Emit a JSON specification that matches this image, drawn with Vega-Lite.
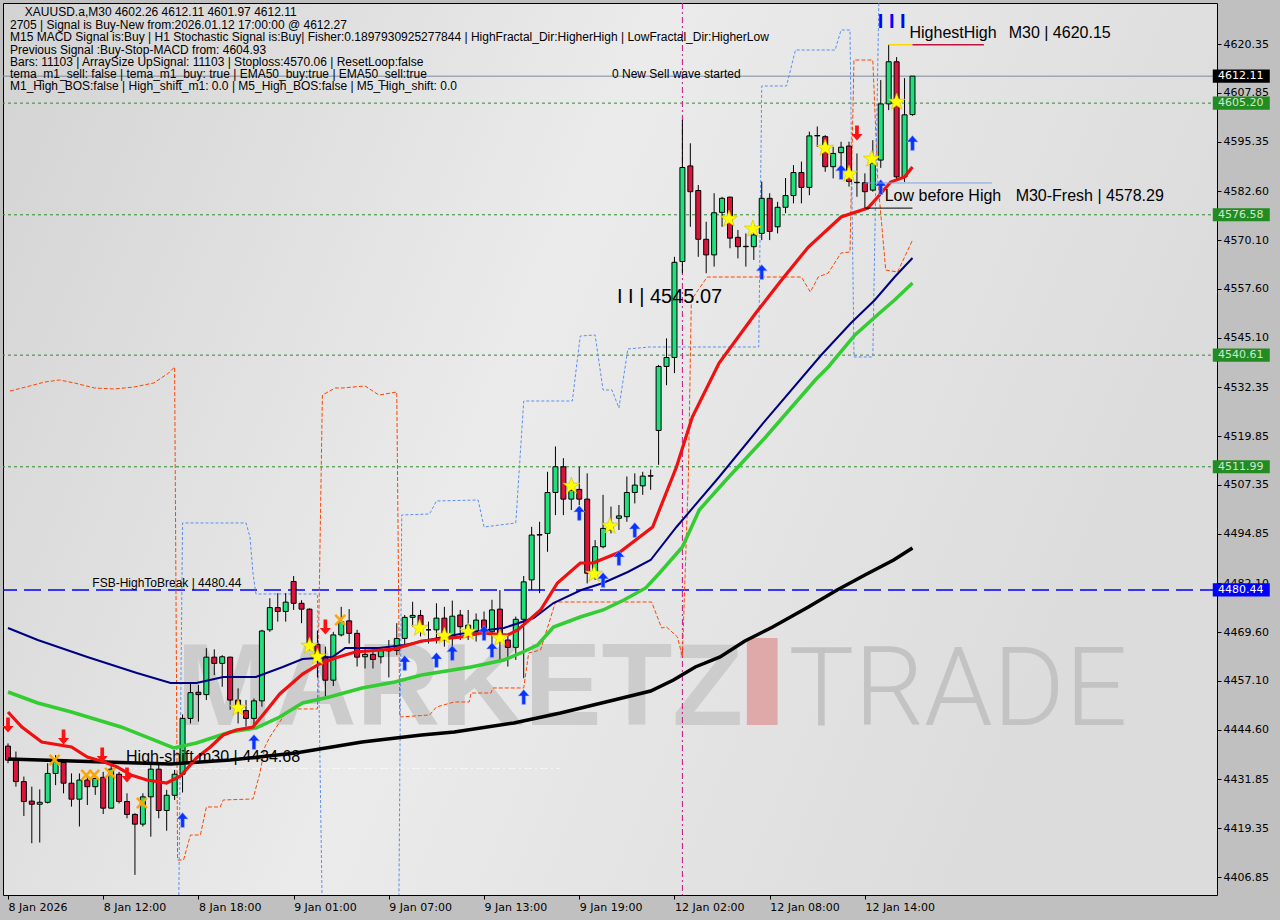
{
"$schema": "https://vega.github.io/schema/vega-lite/v6.json",
"width": 1214, "height": 892,
"autosize": {"type": "none"},
"padding": {"left": 3, "top": 3, "right": 63, "bottom": 25},
"background": "#c0c0c0",
"config": {"view": {"stroke": "#000000", "strokeWidth": 1, "fill": {"gradient": "linear", "x1": 0, "y1": 0, "x2": 1, "y2": 0.3, "stops": [{"offset": 0, "color": "#d3d3d3"}, {"offset": 0.5, "color": "#ebebeb"}, {"offset": 1, "color": "#dcdcdc"}]}}},
"datasets": {
"candles": [
{"k":0,"o":4440.4,"h":4441.1,"l":4436.0,"c":4436.8},
{"k":1,"o":4436.8,"h":4439.0,"l":4430.0,"c":4431.3},
{"k":2,"o":4431.3,"h":4432.6,"l":4422.5,"c":4426.2},
{"k":3,"o":4426.3,"h":4430.0,"l":4415.5,"c":4425.5},
{"k":4,"o":4425.5,"h":4429.3,"l":4415.7,"c":4426.0},
{"k":5,"o":4426.0,"h":4436.0,"l":4425.7,"c":4433.4},
{"k":6,"o":4433.4,"h":4438.1,"l":4430.4,"c":4437.0},
{"k":7,"o":4436.2,"h":4437.0,"l":4428.3,"c":4430.9},
{"k":8,"o":4430.9,"h":4433.4,"l":4424.9,"c":4426.8},
{"k":9,"o":4426.8,"h":4433.4,"l":4419.8,"c":4431.7},
{"k":10,"o":4431.7,"h":4433.4,"l":4425.3,"c":4430.0},
{"k":11,"o":4430.0,"h":4433.4,"l":4427.9,"c":4432.1},
{"k":12,"o":4432.4,"h":4433.8,"l":4423.0,"c":4424.5},
{"k":13,"o":4424.5,"h":4435.6,"l":4424.5,"c":4434.5},
{"k":14,"o":4433.2,"h":4433.8,"l":4425.7,"c":4426.2},
{"k":15,"o":4426.2,"h":4428.3,"l":4421.9,"c":4422.9},
{"k":16,"o":4422.9,"h":4423.2,"l":4407.4,"c":4420.4},
{"k":17,"o":4420.4,"h":4428.3,"l":4419.8,"c":4427.4},
{"k":18,"o":4427.4,"h":4436.0,"l":4417.2,"c":4434.5},
{"k":19,"o":4434.5,"h":4436.0,"l":4421.9,"c":4423.9},
{"k":20,"o":4423.9,"h":4429.2,"l":4418.7,"c":4427.8},
{"k":21,"o":4427.8,"h":4434.3,"l":4426.6,"c":4433.2},
{"k":22,"o":4433.2,"h":4448.5,"l":4428.5,"c":4447.5},
{"k":23,"o":4447.5,"h":4456.5,"l":4446.2,"c":4454.1},
{"k":24,"o":4454.2,"h":4456.1,"l":4446.7,"c":4453.6},
{"k":25,"o":4453.6,"h":4465.5,"l":4452.2,"c":4463.2},
{"k":26,"o":4463.2,"h":4465.2,"l":4458.6,"c":4461.6},
{"k":27,"o":4461.6,"h":4463.7,"l":4455.6,"c":4463.3},
{"k":28,"o":4463.2,"h":4463.3,"l":4449.7,"c":4452.2},
{"k":29,"o":4452.2,"h":4455.2,"l":4446.2,"c":4450.1},
{"k":30,"o":4449.5,"h":4452.2,"l":4445.4,"c":4447.5},
{"k":31,"o":4447.5,"h":4452.6,"l":4445.4,"c":4452.0},
{"k":32,"o":4452.0,"h":4470.2,"l":4450.5,"c":4469.9},
{"k":33,"o":4470.2,"h":4478.3,"l":4469.7,"c":4475.9},
{"k":34,"o":4475.9,"h":4479.6,"l":4472.3,"c":4474.9},
{"k":35,"o":4474.9,"h":4479.6,"l":4472.3,"c":4477.3},
{"k":36,"o":4482.6,"h":4484.0,"l":4475.3,"c":4477.0},
{"k":37,"o":4477.0,"h":4477.8,"l":4471.9,"c":4475.5},
{"k":38,"o":4475.5,"h":4475.7,"l":4465.0,"c":4466.7},
{"k":39,"o":4466.5,"h":4470.0,"l":4458.0,"c":4462.7},
{"k":40,"o":4463.3,"h":4465.9,"l":4453.1,"c":4457.3},
{"k":41,"o":4457.3,"h":4469.7,"l":4455.8,"c":4468.9},
{"k":42,"o":4468.9,"h":4476.1,"l":4468.5,"c":4472.3},
{"k":43,"o":4472.5,"h":4475.5,"l":4466.7,"c":4469.3},
{"k":44,"o":4469.3,"h":4470.2,"l":4460.8,"c":4463.2},
{"k":45,"o":4463.3,"h":4465.5,"l":4460.3,"c":4463.9},
{"k":46,"o":4463.9,"h":4465.7,"l":4460.3,"c":4462.6},
{"k":47,"o":4463.3,"h":4465.7,"l":4461.6,"c":4464.9},
{"k":48,"o":4464.9,"h":4467.6,"l":4458.0,"c":4464.8},
{"k":49,"o":4464.9,"h":4471.9,"l":4463.7,"c":4468.0},
{"k":50,"o":4468.0,"h":4474.0,"l":4466.1,"c":4473.4},
{"k":51,"o":4473.4,"h":4477.4,"l":4471.0,"c":4473.9},
{"k":52,"o":4473.9,"h":4475.3,"l":4468.5,"c":4471.4},
{"k":53,"o":4470.2,"h":4472.3,"l":4466.7,"c":4470.2},
{"k":54,"o":4470.2,"h":4477.0,"l":4466.7,"c":4473.2},
{"k":55,"o":4473.2,"h":4476.1,"l":4465.9,"c":4467.6},
{"k":56,"o":4468.0,"h":4477.7,"l":4464.2,"c":4473.7},
{"k":57,"o":4474.0,"h":4475.3,"l":4467.6,"c":4471.0},
{"k":58,"o":4469.3,"h":4475.3,"l":4467.6,"c":4471.4},
{"k":59,"o":4469.7,"h":4474.4,"l":4467.2,"c":4472.7},
{"k":60,"o":4472.7,"h":4474.9,"l":4467.6,"c":4469.7},
{"k":61,"o":4469.7,"h":4477.9,"l":4464.2,"c":4475.3},
{"k":62,"o":4475.5,"h":4480.4,"l":4462.5,"c":4468.9},
{"k":63,"o":4467.6,"h":4468.9,"l":4460.8,"c":4465.7},
{"k":64,"o":4465.7,"h":4473.6,"l":4462.5,"c":4472.9},
{"k":65,"o":4472.9,"h":4484.0,"l":4457.8,"c":4482.5},
{"k":66,"o":4483.0,"h":4496.6,"l":4480.4,"c":4494.5},
{"k":67,"o":4494.5,"h":4497.9,"l":4479.6,"c":4494.6},
{"k":68,"o":4494.9,"h":4510.7,"l":4490.2,"c":4505.4},
{"k":69,"o":4505.4,"h":4517.2,"l":4499.6,"c":4512.0},
{"k":70,"o":4512.0,"h":4514.2,"l":4499.6,"c":4503.7},
{"k":71,"o":4503.7,"h":4507.8,"l":4500.9,"c":4505.9},
{"k":72,"o":4506.2,"h":4512.0,"l":4502.2,"c":4503.7},
{"k":73,"o":4503.7,"h":4510.3,"l":4482.1,"c":4484.7},
{"k":74,"o":4484.7,"h":4493.2,"l":4483.0,"c":4491.5},
{"k":75,"o":4491.5,"h":4504.8,"l":4491.1,"c":4496.2},
{"k":76,"o":4495.8,"h":4501.8,"l":4494.9,"c":4497.5},
{"k":77,"o":4498.8,"h":4502.2,"l":4495.8,"c":4499.4},
{"k":78,"o":4499.2,"h":4509.5,"l":4497.9,"c":4505.4},
{"k":79,"o":4505.4,"h":4510.3,"l":4502.6,"c":4507.3},
{"k":80,"o":4507.1,"h":4510.7,"l":4504.8,"c":4509.6},
{"k":81,"o":4509.6,"h":4511.3,"l":4506.1,"c":4509.7},
{"k":82,"o":4521.3,"h":4538.1,"l":4512.5,"c":4537.7},
{"k":83,"o":4537.7,"h":4544.9,"l":4532.9,"c":4540.0},
{"k":84,"o":4540.0,"h":4565.8,"l":4536.0,"c":4564.4},
{"k":85,"o":4564.6,"h":4600.9,"l":4561.6,"c":4588.7},
{"k":86,"o":4589.1,"h":4594.9,"l":4573.5,"c":4582.5},
{"k":87,"o":4582.8,"h":4584.2,"l":4565.8,"c":4570.3},
{"k":88,"o":4570.3,"h":4574.8,"l":4561.6,"c":4566.3},
{"k":89,"o":4566.3,"h":4582.1,"l":4563.3,"c":4577.1},
{"k":90,"o":4577.2,"h":4581.2,"l":4573.5,"c":4580.8},
{"k":91,"o":4581.1,"h":4581.2,"l":4568.0,"c":4570.6},
{"k":92,"o":4570.8,"h":4572.7,"l":4565.4,"c":4568.4},
{"k":93,"o":4568.4,"h":4571.8,"l":4563.3,"c":4568.5},
{"k":94,"o":4568.4,"h":4574.0,"l":4565.0,"c":4571.4},
{"k":95,"o":4571.8,"h":4585.1,"l":4570.1,"c":4580.8},
{"k":96,"o":4580.8,"h":4582.1,"l":4570.1,"c":4572.3},
{"k":97,"o":4573.5,"h":4579.9,"l":4571.8,"c":4578.5},
{"k":98,"o":4578.5,"h":4586.0,"l":4577.0,"c":4581.5},
{"k":99,"o":4581.5,"h":4589.3,"l":4579.5,"c":4587.4},
{"k":100,"o":4587.4,"h":4590.2,"l":4579.5,"c":4583.6},
{"k":101,"o":4583.6,"h":4597.9,"l":4581.6,"c":4596.8},
{"k":102,"o":4596.8,"h":4599.2,"l":4594.0,"c":4596.9},
{"k":103,"o":4596.6,"h":4597.0,"l":4587.6,"c":4588.9},
{"k":104,"o":4588.9,"h":4594.0,"l":4585.9,"c":4592.3},
{"k":105,"o":4592.5,"h":4595.3,"l":4587.2,"c":4593.9},
{"k":106,"o":4594.2,"h":4595.3,"l":4583.8,"c":4585.1},
{"k":107,"o":4584.8,"h":4592.3,"l":4581.2,"c":4584.9},
{"k":108,"o":4584.8,"h":4587.2,"l":4578.29,"c":4582.5},
{"k":109,"o":4582.9,"h":4595.7,"l":4582.5,"c":4589.8},
{"k":110,"o":4590.6,"h":4611.1,"l":4588.6,"c":4605.0},
{"k":111,"o":4605.0,"h":4620.15,"l":4603.4,"c":4615.8},
{"k":112,"o":4615.8,"h":4617.0,"l":4585.5,"c":4586.3},
{"k":113,"o":4586.3,"h":4611.6,"l":4585.0,"c":4602.2},
{"k":114,"o":4602.26,"h":4612.11,"l":4601.97,"c":4612.11}
],
"black": [{"k":0,"p":4437.10},{"k":12.125,"p":4436.33},{"k":20.5,"p":4435.82},{"k":28,"p":4436.84},{"k":36.25,"p":4438.64},{"k":44.625,"p":4441.46},{"k":52.125,"p":4443.25},{"k":56.25,"p":4444.02},{"k":63.75,"p":4446.33},{"k":69.625,"p":4448.89},{"k":76.375,"p":4452.22},{"k":81,"p":4454.53},{"k":83.875,"p":4457.35},{"k":86.625,"p":4460.68},{"k":89.75,"p":4463.24},{"k":92.875,"p":4467.34},{"k":96.375,"p":4470.93},{"k":100.875,"p":4476.06},{"k":104.5,"p":4480.41},{"k":108,"p":4484.26},{"k":111.625,"p":4488.10},{"k":114,"p":4491.18}],
"navy": [{"k":0,"p":4470.67},{"k":3.75,"p":4467.60},{"k":10,"p":4463.24},{"k":16.25,"p":4459.14},{"k":20.5,"p":4456.58},{"k":23.75,"p":4456.58},{"k":27.125,"p":4458.11},{"k":31.25,"p":4458.11},{"k":34.625,"p":4460.68},{"k":37.125,"p":4462.73},{"k":40.875,"p":4463.24},{"k":42.5,"p":4465.55},{"k":46.75,"p":4465.55},{"k":50,"p":4466.32},{"k":54.25,"p":4468.11},{"k":58.375,"p":4469.65},{"k":62.5,"p":4470.67},{"k":66.25,"p":4473.24},{"k":68.75,"p":4477.08},{"k":72.25,"p":4480.41},{"k":75,"p":4482.21},{"k":78.125,"p":4485.03},{"k":81,"p":4488.10},{"k":84.25,"p":4496.56},{"k":89.625,"p":4509.37},{"k":95.5,"p":4523.98},{"k":102.5,"p":4540.64},{"k":106.25,"p":4548.85},{"k":109.25,"p":4554.74},{"k":111.75,"p":4560.63},{"k":114,"p":4565.50}],
"green": [{"k":0,"p":4454.27},{"k":3.75,"p":4451.45},{"k":8,"p":4449.14},{"k":14.25,"p":4445.30},{"k":18.375,"p":4441.97},{"k":20.875,"p":4439.92},{"k":23.75,"p":4441.20},{"k":28,"p":4444.02},{"k":31.25,"p":4445.04},{"k":34.25,"p":4447.86},{"k":37.125,"p":4451.45},{"k":40.5,"p":4452.99},{"k":44.625,"p":4455.30},{"k":48.75,"p":4456.83},{"k":52.125,"p":4458.63},{"k":58.375,"p":4460.68},{"k":62.5,"p":4462.47},{"k":64.625,"p":4464.27},{"k":66.75,"p":4466.32},{"k":68.75,"p":4470.93},{"k":72.125,"p":4473.49},{"k":75,"p":4475.29},{"k":77.625,"p":4477.85},{"k":80.375,"p":4480.93},{"k":82.125,"p":4484.77},{"k":85,"p":4491.43},{"k":87.125,"p":4500.92},{"k":90.5,"p":4508.61},{"k":95.5,"p":4519.63},{"k":101.75,"p":4534.24},{"k":103.375,"p":4537.57},{"k":106.75,"p":4545.77},{"k":110,"p":4551.66},{"k":111.75,"p":4554.74},{"k":114,"p":4559.10}],
"red": [{"k":0,"p":4449.14},{"k":1.75,"p":4445.30},{"k":4.25,"p":4441.46},{"k":8,"p":4440.17},{"k":10,"p":4437.61},{"k":12.125,"p":4436.33},{"k":13.75,"p":4435.05},{"k":15.5,"p":4433.00},{"k":17.5,"p":4431.72},{"k":20,"p":4430.95},{"k":21.75,"p":4432.74},{"k":23.75,"p":4437.35},{"k":25.5,"p":4440.17},{"k":27.125,"p":4443.25},{"k":28.75,"p":4444.53},{"k":30.875,"p":4445.30},{"k":32.125,"p":4448.38},{"k":34.25,"p":4453.76},{"k":37.125,"p":4458.88},{"k":39.25,"p":4461.45},{"k":41.25,"p":4462.98},{"k":43.75,"p":4464.52},{"k":48.75,"p":4465.29},{"k":52.125,"p":4467.34},{"k":57.125,"p":4468.37},{"k":59.625,"p":4469.39},{"k":63,"p":4468.88},{"k":64.25,"p":4470.16},{"k":67.125,"p":4475.29},{"k":69.25,"p":4482.21},{"k":72.125,"p":4487.33},{"k":73.75,"p":4487.33},{"k":77.125,"p":4490.15},{"k":81.25,"p":4496.56},{"k":84.25,"p":4511.94},{"k":86.25,"p":4524.75},{"k":89.625,"p":4538.59},{"k":94.25,"p":4551.41},{"k":97.5,"p":4559.87},{"k":100.875,"p":4568.32},{"k":105,"p":4576.01},{"k":108.375,"p":4578.32},{"k":109.625,"p":4581.14},{"k":111.25,"p":4584.98},{"k":113,"p":4586.26},{"k":114,"p":4588.83}],
"orange": [{"k":0.25,"p":4531.42},{"k":2.75,"p":4532.70},{"k":4.625,"p":4533.72},{"k":6.5,"p":4534.24},{"k":8.375,"p":4533.47},{"k":10.875,"p":4532.19},{"k":13.375,"p":4531.93},{"k":15.875,"p":4532.44},{"k":18.375,"p":4533.47},{"k":20.25,"p":4536.03},{"k":21,"p":4537.57},{"k":21.375,"p":4411.21},{"k":22.125,"p":4411.21},{"k":23,"p":4417.62},{"k":24.25,"p":4417.62},{"k":25,"p":4424.80},{"k":26.75,"p":4424.80},{"k":27.125,"p":4426.59},{"k":30.875,"p":4426.85},{"k":31.75,"p":4433.51},{"k":32.375,"p":4440.17},{"k":33,"p":4442.74},{"k":35,"p":4448.89},{"k":35.875,"p":4449.92},{"k":39,"p":4449.92},{"k":39.625,"p":4530.39},{"k":41.25,"p":4532.19},{"k":42.125,"p":4532.19},{"k":45,"p":4532.70},{"k":46.75,"p":4530.39},{"k":49,"p":4531.16},{"k":49.375,"p":4447.86},{"k":53.125,"p":4448.38},{"k":54,"p":4450.43},{"k":56.25,"p":4451.71},{"k":58.125,"p":4451.71},{"k":58.375,"p":4454.01},{"k":60.875,"p":4454.01},{"k":61.125,"p":4455.30},{"k":65,"p":4455.30},{"k":65.625,"p":4464.27},{"k":67.125,"p":4465.03},{"k":69,"p":4477.34},{"k":81.125,"p":4477.34},{"k":82.375,"p":4470.67},{"k":83,"p":4470.93},{"k":84.375,"p":4468.37},{"k":85,"p":4463.24},{"k":85.75,"p":4509.37},{"k":86.125,"p":4554.74},{"k":88.125,"p":4560.63},{"k":100,"p":4560.63},{"k":101.125,"p":4556.79},{"k":102.125,"p":4560.63},{"k":103.375,"p":4561.66},{"k":105,"p":4566.79},{"k":106.125,"p":4567.04},{"k":106.625,"p":4616.25},{"k":109,"p":4616.25},{"k":109.625,"p":4585.50},{"k":110.625,"p":4562.43},{"k":112.125,"p":4561.92},{"k":114,"p":4570.06}],
"bluedot": [{"k":21.5,"p":4395.83},{"k":22,"p":4497.59},{"k":30,"p":4497.59},{"k":30.5,"p":4494.00},{"k":30.875,"p":4484.77},{"k":31.25,"p":4479.39},{"k":39,"p":4479.39},{"k":39.625,"p":4395.83},{"k":49.25,"p":4395.83},{"k":49.625,"p":4499.64},{"k":53.125,"p":4499.89},{"k":54,"p":4503.22},{"k":59.25,"p":4503.48},{"k":60,"p":4496.56},{"k":64,"p":4497.59},{"k":65,"p":4528.85},{"k":71.125,"p":4528.85},{"k":72.125,"p":4545.51},{"k":74,"p":4545.77},{"k":75,"p":4531.67},{"k":76.125,"p":4531.67},{"k":77,"p":4527.06},{"k":78.125,"p":4542.18},{"k":80.875,"p":4542.69},{"k":94.625,"p":4542.69},{"k":95,"p":4609.59},{"k":98.125,"p":4609.59},{"k":99.25,"p":4618.81},{"k":104.25,"p":4618.81},{"k":105,"p":4623.94},{"k":106.125,"p":4623.94},{"k":106.625,"p":4540.13},{"k":109,"p":4540.13},{"k":110,"p":4660.0}],
"marks": [
{"k":29,"p":4450.17,"t":"star"},{"k":38,"p":4466.06,"t":"star"},{"k":39,"p":4463.24,"t":"star"},{"k":51.875,"p":4470.67,"t":"star"},{"k":55,"p":4468.62,"t":"star"},{"k":58,"p":4469.65,"t":"star"},{"k":62,"p":4468.11,"t":"star"},{"k":71,"p":4507.07,"t":"star"},{"k":73.875,"p":4484.51,"t":"star"},{"k":75.875,"p":4496.82,"t":"star"},{"k":90.875,"p":4575.50,"t":"star"},{"k":93.875,"p":4572.94,"t":"star"},{"k":103,"p":4593.70,"t":"star"},{"k":106,"p":4587.03,"t":"star"},{"k":108.875,"p":4590.88,"t":"star"},{"k":112,"p":4605.49,"t":"star"},
{"k":5.875,"p":4436.84,"t":"x"},{"k":9.875,"p":4433.00,"t":"x"},{"k":10.875,"p":4433.00,"t":"x"},{"k":12.875,"p":4433.51,"t":"x"},{"k":16.875,"p":4425.82,"t":"x"},{"k":41.875,"p":4472.72,"t":"x"},
{"k":0,"p":4445.81,"t":"down"},{"k":7,"p":4442.74,"t":"down"},{"k":11.875,"p":4438.13,"t":"down"},{"k":15,"p":4433.00,"t":"down"},{"k":40,"p":4470.93,"t":"down"},{"k":107,"p":4597.54,"t":"down"},
{"k":22,"p":4421.46,"t":"up"},{"k":31,"p":4441.46,"t":"up"},{"k":50,"p":4461.70,"t":"up"},{"k":54,"p":4462.47,"t":"up"},{"k":56,"p":4464.27,"t":"up"},{"k":60,"p":4469.39,"t":"up"},{"k":61,"p":4465.03,"t":"up"},{"k":65,"p":4452.99,"t":"up"},{"k":72,"p":4500.15,"t":"up"},{"k":75,"p":4482.98,"t":"up"},{"k":77,"p":4488.61,"t":"up"},{"k":79,"p":4495.79,"t":"up"},{"k":95,"p":4561.92,"t":"up"},{"k":105,"p":4587.55,"t":"up"},{"k":110,"p":4583.70,"t":"up"},{"k":114,"p":4594.98,"t":"up"}
],
"notes": [
{"k":2.125,"p":4628.43,"label":"XAUUSD.a,M30  4602.26 4612.11 4601.97 4612.11","kind":"info"},
{"k":0.25,"p":4625.22,"label":"2705 | Signal is Buy-New from:2026.01.12 17:00:00 @ 4612.27","kind":"info"},
{"k":0.25,"p":4622.07,"label":"M15 MACD Signal is:Buy | H1 Stochastic Signal is:Buy| Fisher:0.1897930925277844 | HighFractal_Dir:HigherHigh | LowFractal_Dir:HigherLow","kind":"info"},
{"k":0.25,"p":4618.94,"label":"Previous Signal :Buy-Stop-MACD from: 4604.93","kind":"info"},
{"k":0.25,"p":4615.82,"label":"Bars: 11103 | ArraySize UpSignal: 11103 | Stoploss:4570.06 | ResetLoop:false","kind":"info"},
{"k":0.25,"p":4612.66,"label":"tema_m1_sell: false | tema_m1_buy: true | EMA50_buy:true | EMA50_sell:true","kind":"info"},
{"k":0.25,"p":4609.59,"label":"M1_High_BOS:false | High_shift_m1: 0.0 | M5_High_BOS:false | M5_High_shift: 0.0","kind":"info"},
{"k":76.125,"p":4612.66,"label":"0 New Sell wave started","kind":"info"},
{"k":10.625,"p":4482.21,"label":"FSB-HighToBreak | 4480.44","kind":"info"},
{"k":14.875,"p":4437.61,"label":"High-shift m30 | 4434.68","kind":"big"},
{"k":113.625,"p":4623.17,"label":"HighestHigh","kind":"big"},
{"k":126.125,"p":4623.17,"label":"M30 | 4620.15","kind":"big"},
{"k":110.5,"p":4581.40,"label":"Low before High","kind":"big"},
{"k":127,"p":4581.40,"label":"M30-Fresh | 4578.29","kind":"big"},
{"k":76.75,"p":4555.51,"label":"I I | 4545.07","kind":"huge"},
{"k":109.625,"p":4625.99,"label":"I I I","kind":"blue"}
],
"tags": [{"p":4612.11,"label":"4612.11","kind":"black"},{"p":4605.20,"label":"4605.20","kind":"green"},{"p":4576.58,"label":"4576.58","kind":"green"},{"p":4540.61,"label":"4540.61","kind":"green"},{"p":4511.99,"label":"4511.99","kind":"green"},{"p":4480.44,"label":"4480.44","kind":"blue"}]
},
"layer": [
{"data": {"values": [{"k":21.2,"p":4445.81,"label":"MARKETZ"}]},
 "mark": {"type":"text","font":"Liberation Sans","fontWeight":"bold","fontSize":116,"align":"left","baseline":"alphabetic","color":"#cccccc"},
 "encoding": {
  "x": {"field":"k","type":"quantitative","title":null,"scale":{"domain":[0,151.75],"nice":false,"zero":false},
        "axis": {"title":null,"orient":"bottom","values":[0,12,24,36,48,60,72,84,96,108],"labelExpr":"['8 Jan 2026','8 Jan 12:00','8 Jan 18:00','9 Jan 01:00','9 Jan 07:00','9 Jan 13:00','9 Jan 19:00','12 Jan 02:00','12 Jan 08:00','12 Jan 14:00'][round(datum.value/12)]","labelAlign":"left","labelDx":-3,"labelFlush":false,"labelOverlap":false,"labelFont":"DejaVu Sans","labelFontSize":11,"labelColor":"#000000","labelPadding":2,"tickSize":4,"tickColor":"#000000","domain":false,"grid":false}},
  "y": {"field":"p","type":"quantitative","title":null,"scale":{"domain":[4402.24,4630.86],"nice":false,"zero":false},
        "axis": {"title":null,"orient":"right","values":[4406.85,4419.35,4431.85,4444.60,4457.10,4469.60,4482.10,4494.85,4507.35,4519.85,4532.35,4545.10,4557.60,4570.10,4582.60,4595.35,4607.85,4620.35],"format":".2f","labelAlign":"left","labelBaseline":"middle","labelOverlap":false,"labelFlush":false,"labelFont":"DejaVu Sans","labelFontSize":11,"labelColor":"#000000","labelPadding":2,"tickSize":4,"tickColor":"#000000","domain":false,"grid":false}},
  "text": {"field":"label"}
 }},
{"data": {"values": [{"k":98.375,"p":4445.81,"label":"TRADE"}]},
 "mark": {"type":"text","font":"Roboto","fontWeight":300,"fontSize":110,"align":"left","baseline":"alphabetic","color":"#c3c3c3"},
 "encoding": {"x":{"field":"k","type":"quantitative","title":null,"scale":{"domain":[0,151.75],"nice":false,"zero":false}},
  "y":{"field":"p","type":"quantitative","title":null,"scale":{"domain":[4402.24,4630.86],"nice":false,"zero":false}},"text":{"field":"label"}}},
{"data": {"values": [{"k1":93.125,"k2":97,"p1":4445.81,"p2":4468.11}]},
 "mark": {"type":"rect","color":"#e0a9a9"},
 "encoding": {"x":{"field":"k1","type":"quantitative","title":null,"scale":{"domain":[0,151.75],"nice":false,"zero":false}},"x2":{"field":"k2"},
  "y":{"field":"p1","type":"quantitative","title":null,"scale":{"domain":[4402.24,4630.86],"nice":false,"zero":false}},"y2":{"field":"p2"}}},
{"data": {"values": [{"p":4605.20},{"p":4576.58},{"p":4540.61},{"p":4511.99}]},
 "mark": {"type":"rule","color":"#2f8a2f","strokeDash":[3,3],"strokeWidth":1},
 "encoding": {"y":{"field":"p","type":"quantitative","title":null,"scale":{"domain":[4402.24,4630.86],"nice":false,"zero":false}}}},
{"data": {"values": [{"p":4612.11}]},
 "mark": {"type":"rule","color":"#7d8ca0","strokeWidth":1},
 "encoding": {"y":{"field":"p","type":"quantitative","title":null,"scale":{"domain":[4402.24,4630.86],"nice":false,"zero":false}}}},
{"data": {"values": [{"p":4480.44}]},
 "mark": {"type":"rule","color":"#0000ff","strokeDash":[17,7],"strokeWidth":1.5},
 "encoding": {"y":{"field":"p","type":"quantitative","title":null,"scale":{"domain":[4402.24,4630.86],"nice":false,"zero":false}}}},
{"data": {"values": [{"k":14.625,"k2":69.625,"p":4434.68}]},
 "mark": {"type":"rule","color":"#f6f6f6","strokeDash":[8,3,2,3],"strokeWidth":1},
 "encoding": {"x":{"field":"k","type":"quantitative","title":null,"scale":{"domain":[0,151.75],"nice":false,"zero":false}},"x2":{"field":"k2"},
  "y":{"field":"p","type":"quantitative","title":null,"scale":{"domain":[4402.24,4630.86],"nice":false,"zero":false}}}},
{"data": {"values": [{"k":85}]},
 "mark": {"type":"rule","color":"#c71585","strokeDash":[6,3,2,3],"strokeWidth":1},
 "encoding": {"x":{"field":"k","type":"quantitative","title":null,"scale":{"domain":[0,151.75],"nice":false,"zero":false}}}},
{"data": {"name":"orange"},
 "mark": {"type":"line","color":"#ff4500","strokeWidth":1,"strokeDash":[4,2],"clip":true},
 "encoding": {"x":{"field":"k","type":"quantitative","title":null,"scale":{"domain":[0,151.75],"nice":false,"zero":false}},
  "y":{"field":"p","type":"quantitative","title":null,"scale":{"domain":[4402.24,4630.86],"nice":false,"zero":false}}}},
{"data": {"name":"bluedot"},
 "mark": {"type":"line","color":"#5b8ff0","strokeWidth":1,"strokeDash":[3,2],"clip":true},
 "encoding": {"x":{"field":"k","type":"quantitative","title":null,"scale":{"domain":[0,151.75],"nice":false,"zero":false}},
  "y":{"field":"p","type":"quantitative","title":null,"scale":{"domain":[4402.24,4630.86],"nice":false,"zero":false}}}},
{"data": {"name":"candles"},
 "mark": {"type":"rule","color":"#000000","strokeWidth":1,"clip":true},
 "encoding": {"x":{"field":"k","type":"quantitative","title":null,"scale":{"domain":[0,151.75],"nice":false,"zero":false}},
  "y":{"field":"l","type":"quantitative","title":null,"scale":{"domain":[4402.24,4630.86],"nice":false,"zero":false}},"y2":{"field":"h"}}},
{"data": {"name":"candles"},
 "mark": {"type":"bar","size":5,"stroke":"#000000","strokeWidth":1,"clip":true},
 "encoding": {"x":{"field":"k","type":"quantitative","title":null,"scale":{"domain":[0,151.75],"nice":false,"zero":false}},
  "y":{"field":"o","type":"quantitative","title":null,"scale":{"domain":[4402.24,4630.86],"nice":false,"zero":false}},"y2":{"field":"c"},
  "fill":{"condition":{"test":"datum.c >= datum.o","value":"#1ee07c"},"value":"#dc143c"}}},
{"data": {"name":"black"},
 "mark": {"type":"line","color":"#000000","strokeWidth":3.5,"clip":true},
 "encoding": {"x":{"field":"k","type":"quantitative","title":null,"scale":{"domain":[0,151.75],"nice":false,"zero":false}},
  "y":{"field":"p","type":"quantitative","title":null,"scale":{"domain":[4402.24,4630.86],"nice":false,"zero":false}}}},
{"data": {"name":"green"},
 "mark": {"type":"line","color":"#33cc33","strokeWidth":3.5,"clip":true},
 "encoding": {"x":{"field":"k","type":"quantitative","title":null,"scale":{"domain":[0,151.75],"nice":false,"zero":false}},
  "y":{"field":"p","type":"quantitative","title":null,"scale":{"domain":[4402.24,4630.86],"nice":false,"zero":false}}}},
{"data": {"name":"navy"},
 "mark": {"type":"line","color":"#000080","strokeWidth":2,"clip":true},
 "encoding": {"x":{"field":"k","type":"quantitative","title":null,"scale":{"domain":[0,151.75],"nice":false,"zero":false}},
  "y":{"field":"p","type":"quantitative","title":null,"scale":{"domain":[4402.24,4630.86],"nice":false,"zero":false}}}},
{"data": {"name":"red"},
 "mark": {"type":"line","color":"#f01010","strokeWidth":3.2,"clip":true},
 "encoding": {"x":{"field":"k","type":"quantitative","title":null,"scale":{"domain":[0,151.75],"nice":false,"zero":false}},
  "y":{"field":"p","type":"quantitative","title":null,"scale":{"domain":[4402.24,4630.86],"nice":false,"zero":false}}}},
{"data": {"name":"marks"}, "transform":[{"filter":"datum.t == 'star'"}],
 "mark": {"type":"point","shape":"M0,-1L0.235,-0.324L0.951,-0.309L0.38,0.124L0.588,0.809L0,0.4L-0.588,0.809L-0.38,0.124L-0.951,-0.309L-0.235,-0.324Z","size":320,"filled":true,"fill":"#ffff00","stroke":"#cdbb00","strokeWidth":0.6,"opacity":1},
 "encoding": {"x":{"field":"k","type":"quantitative","title":null,"scale":{"domain":[0,151.75],"nice":false,"zero":false}},
  "y":{"field":"p","type":"quantitative","title":null,"scale":{"domain":[4402.24,4630.86],"nice":false,"zero":false}}}},
{"data": {"name":"marks"}, "transform":[{"filter":"datum.t == 'x'"}],
 "mark": {"type":"point","shape":"M-1,-0.7L-0.7,-1L0,-0.3L0.7,-1L1,-0.7L0.3,0L1,0.7L0.7,1L0,0.3L-0.7,1L-1,0.7L-0.3,0Z","size":140,"filled":true,"fill":"#ffa500","opacity":1},
 "encoding": {"x":{"field":"k","type":"quantitative","title":null,"scale":{"domain":[0,151.75],"nice":false,"zero":false}},
  "y":{"field":"p","type":"quantitative","title":null,"scale":{"domain":[4402.24,4630.86],"nice":false,"zero":false}}}},
{"data": {"name":"marks"}, "transform":[{"filter":"datum.t == 'down'"}],
 "mark": {"type":"point","shape":"M0,1L0.75,0.15L0.25,0.15L0.25,-1L-0.25,-1L-0.25,0.15L-0.75,0.15Z","size":220,"filled":true,"fill":"#ff1111","opacity":1,"clip":true},
 "encoding": {"x":{"field":"k","type":"quantitative","title":null,"scale":{"domain":[0,151.75],"nice":false,"zero":false}},
  "y":{"field":"p","type":"quantitative","title":null,"scale":{"domain":[4402.24,4630.86],"nice":false,"zero":false}}}},
{"data": {"name":"marks"}, "transform":[{"filter":"datum.t == 'up'"}],
 "mark": {"type":"point","shape":"M0,-1L0.75,-0.15L0.25,-0.15L0.25,1L-0.25,1L-0.25,-0.15L-0.75,-0.15Z","size":220,"filled":true,"fill":"#0a32ff","stroke":"#9fb4ff","strokeWidth":0.5,"opacity":1},
 "encoding": {"x":{"field":"k","type":"quantitative","title":null,"scale":{"domain":[0,151.75],"nice":false,"zero":false}},
  "y":{"field":"p","type":"quantitative","title":null,"scale":{"domain":[4402.24,4630.86],"nice":false,"zero":false}}}},
{"data": {"values": [{"k":108,"k2":124,"p":4584.73}]},
 "mark": {"type":"rule","color":"#7aa2e8","strokeWidth":1},
 "encoding": {"x":{"field":"k","type":"quantitative","title":null,"scale":{"domain":[0,151.75],"nice":false,"zero":false}},"x2":{"field":"k2"},
  "y":{"field":"p","type":"quantitative","title":null,"scale":{"domain":[4402.24,4630.86],"nice":false,"zero":false}}}},
{"data": {"values": [{"k":108,"k2":114,"p":4578.29}]},
 "mark": {"type":"rule","color":"#000000","strokeWidth":1},
 "encoding": {"x":{"field":"k","type":"quantitative","title":null,"scale":{"domain":[0,151.75],"nice":false,"zero":false}},"x2":{"field":"k2"},
  "y":{"field":"p","type":"quantitative","title":null,"scale":{"domain":[4402.24,4630.86],"nice":false,"zero":false}}}},
{"data": {"values": [{"k":111,"k2":114,"p":4620.15}]},
 "mark": {"type":"rule","color":"#ffd700","strokeWidth":1.5},
 "encoding": {"x":{"field":"k","type":"quantitative","title":null,"scale":{"domain":[0,151.75],"nice":false,"zero":false}},"x2":{"field":"k2"},
  "y":{"field":"p","type":"quantitative","title":null,"scale":{"domain":[4402.24,4630.86],"nice":false,"zero":false}}}},
{"data": {"values": [{"k":114,"k2":123,"p":4620.15}]},
 "mark": {"type":"rule","color":"#c0143c","strokeWidth":1.5},
 "encoding": {"x":{"field":"k","type":"quantitative","title":null,"scale":{"domain":[0,151.75],"nice":false,"zero":false}},"x2":{"field":"k2"},
  "y":{"field":"p","type":"quantitative","title":null,"scale":{"domain":[4402.24,4630.86],"nice":false,"zero":false}}}},
{"data": {"name":"notes"}, "transform":[{"filter":"datum.kind == 'info'"}],
 "mark": {"type":"text","font":"Liberation Sans","fontSize":12,"align":"left","baseline":"middle","color":"#000000"},
 "encoding": {"x":{"field":"k","type":"quantitative","title":null,"scale":{"domain":[0,151.75],"nice":false,"zero":false}},
  "y":{"field":"p","type":"quantitative","title":null,"scale":{"domain":[4402.24,4630.86],"nice":false,"zero":false}},"text":{"field":"label"}}},
{"data": {"name":"notes"}, "transform":[{"filter":"datum.kind == 'big'"}],
 "mark": {"type":"text","font":"Liberation Sans","fontSize":16,"align":"left","baseline":"middle","color":"#000000"},
 "encoding": {"x":{"field":"k","type":"quantitative","title":null,"scale":{"domain":[0,151.75],"nice":false,"zero":false}},
  "y":{"field":"p","type":"quantitative","title":null,"scale":{"domain":[4402.24,4630.86],"nice":false,"zero":false}},"text":{"field":"label"}}},
{"data": {"name":"notes"}, "transform":[{"filter":"datum.kind == 'huge'"}],
 "mark": {"type":"text","font":"Liberation Sans","fontSize":20,"align":"left","baseline":"middle","color":"#000000"},
 "encoding": {"x":{"field":"k","type":"quantitative","title":null,"scale":{"domain":[0,151.75],"nice":false,"zero":false}},
  "y":{"field":"p","type":"quantitative","title":null,"scale":{"domain":[4402.24,4630.86],"nice":false,"zero":false}},"text":{"field":"label"}}},
{"data": {"name":"notes"}, "transform":[{"filter":"datum.kind == 'blue'"}],
 "mark": {"type":"text","font":"Liberation Sans","fontSize":20,"fontWeight":"bold","align":"left","baseline":"middle","color":"#0000ff"},
 "encoding": {"x":{"field":"k","type":"quantitative","title":null,"scale":{"domain":[0,151.75],"nice":false,"zero":false}},
  "y":{"field":"p","type":"quantitative","title":null,"scale":{"domain":[4402.24,4630.86],"nice":false,"zero":false}},"text":{"field":"label"}}},
{"data": {"name":"tags"},
 "mark": {"type":"point","shape":"M-1,-0.23L1,-0.23L1,0.23L-1,0.23Z","size":3249,"filled":true,"opacity":1,"clip":false},
 "encoding": {"x":{"datum":155.44,"type":"quantitative","title":null,"scale":{"domain":[0,151.75],"nice":false,"zero":false}},
  "y":{"field":"p","type":"quantitative","title":null,"scale":{"domain":[4402.24,4630.86],"nice":false,"zero":false}},
  "fill":{"condition":[{"test":"datum.kind == 'black'","value":"#000000"},{"test":"datum.kind == 'blue'","value":"#0000ff"}],"value":"#228b22"}}},
{"data": {"name":"tags"},
 "mark": {"type":"text","font":"DejaVu Sans","fontSize":11,"align":"left","baseline":"middle","clip":false},
 "encoding": {"x":{"datum":152.5,"type":"quantitative","title":null,"scale":{"domain":[0,151.75],"nice":false,"zero":false}},
  "y":{"field":"p","type":"quantitative","title":null,"scale":{"domain":[4402.24,4630.86],"nice":false,"zero":false}},
  "text":{"field":"label"},
  "color":{"condition":{"test":"datum.kind == 'green'","value":"#cfe8cf"},"value":"#ffffff"}}}
]
}
